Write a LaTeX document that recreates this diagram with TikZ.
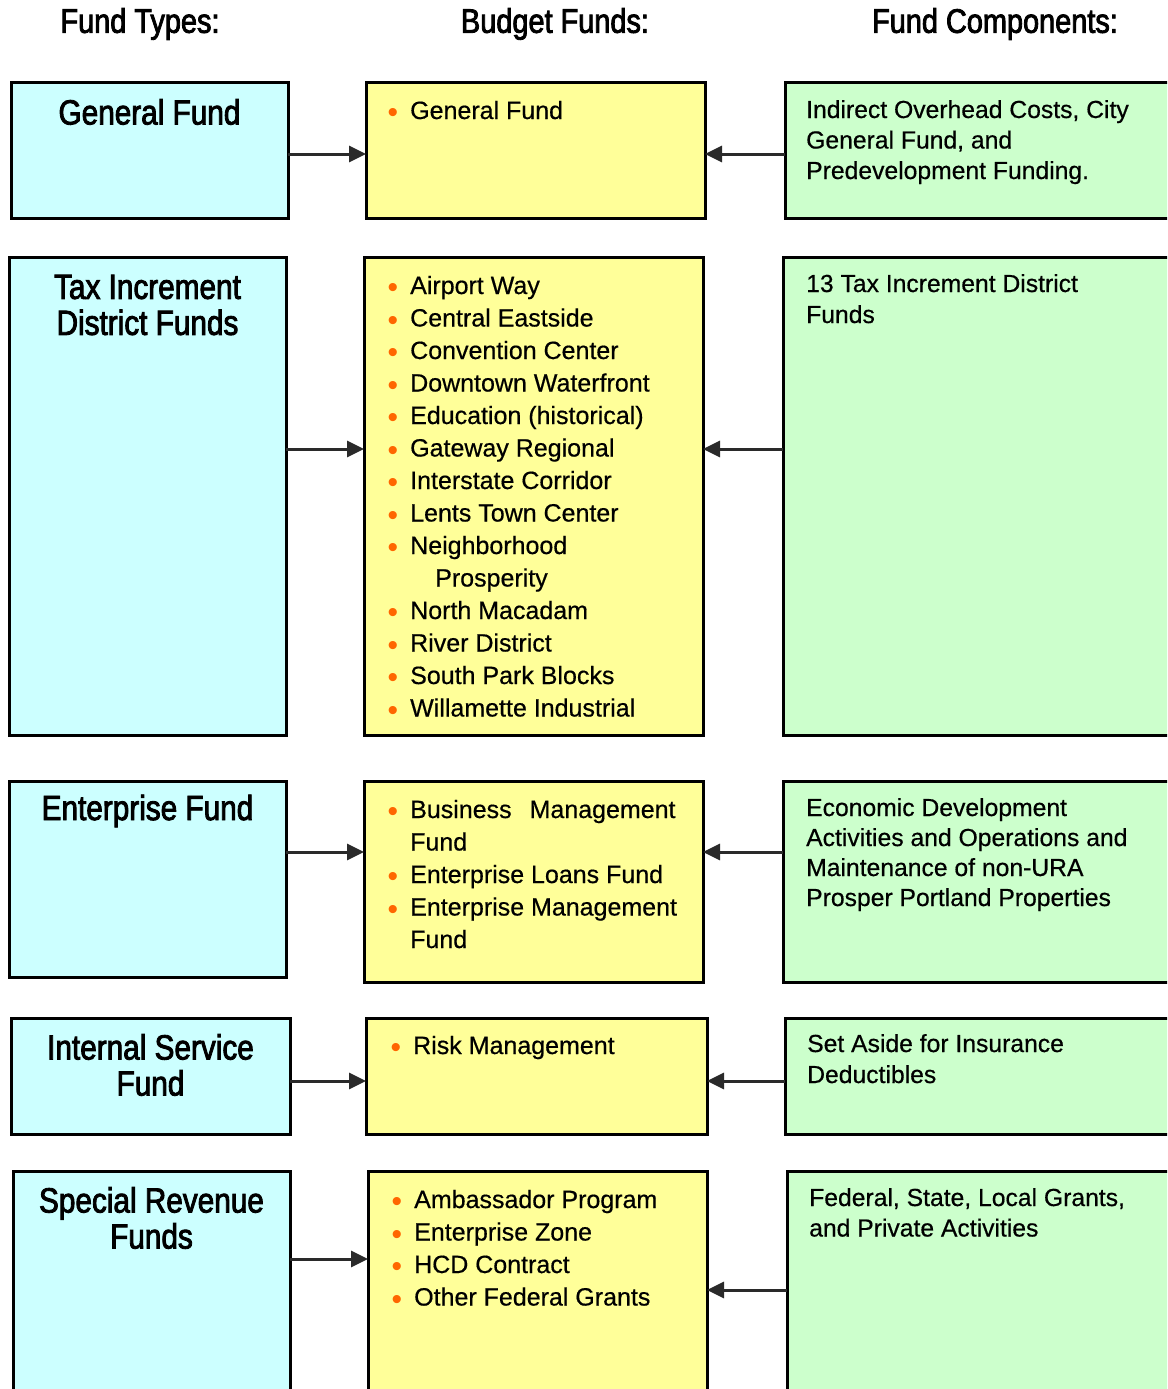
\documentclass[tikz,border=0pt]{standalone}
\usepackage{fontspec}
\setmainfont{Liberation Sans}[FakeBold=0.5]
\newfontfamily\ttlfont[FakeStretch=0.85,FakeBold=2.4]{Liberation Sans}
\newfontfamily\bulfont{Liberation Sans}
\usetikzlibrary{arrows.meta}
\definecolor{cyanbox}{HTML}{CCFFFF}
\definecolor{yelbox}{HTML}{FFFF99}
\definecolor{grnbox}{HTML}{CCFFCC}
\definecolor{bulc}{HTML}{FF6600}
\definecolor{arrc}{HTML}{2A2A2A}
\newcommand\bul{\makebox[0pt][r]{\raisebox{-3.8pt}{\textcolor{bulc}{\bulfont\fontsize{30}{30}\selectfont •}}\hspace{12pt}}}
\newcommand\mtext[1]{\parbox[t]{330pt}{\fontsize{25}{32.5}\selectfont #1}}
\newcommand\gtext[2]{\parbox[t]{380pt}{\fontsize{24.7}{#1}\selectfont #2}}
\begin{document}
\begin{tikzpicture}[x=1pt,y=-1pt,
  box/.style={draw=black,line width=3pt,inner sep=0pt,outer sep=0pt},
  ftype/.style={box,fill=cyanbox},
  bfund/.style={box,fill=yelbox},
  fcomp/.style={box,fill=grnbox},
  ttl/.style={font=\ttlfont\fontsize{35}{36}\selectfont,align=center,inner sep=0pt},
  hdr/.style={font=\ttlfont\fontsize{34}{36}\selectfont,inner sep=0pt},
  txt/.style={anchor=base west,inner sep=0pt},
  arr/.style={draw=arrc,line width=3pt,-{Triangle[length=17pt,width=16pt]}}]
\useasboundingbox (0,0) rectangle (1167,1389);
\clip (0,0) rectangle (1167,1389);
\fill[white] (0,0) rectangle (1167,1389);
% headers
\node[hdr] (h1) at (140,24) {Fund Types:};
\node[hdr] (h2) at (555,24) {Budget Funds:};
\node[hdr] (h3) at (995,24) {Fund Components:};
% row 1
\path (11,82) node[ftype,anchor=north west,minimum width=277pt,minimum height=136pt] (t1) {};
\path (366,82) node[bfund,anchor=north west,minimum width=339pt,minimum height=136pt] (m1) {};
\path (785,82) node[fcomp,anchor=north west,minimum width=400pt,minimum height=136pt] (c1) {};
% row 2
\path (9,257) node[ftype,anchor=north west,minimum width=277pt,minimum height=478pt] (t2) {};
\path (364,257) node[bfund,anchor=north west,minimum width=339pt,minimum height=478pt] (m2) {};
\path (783,257) node[fcomp,anchor=north west,minimum width=400pt,minimum height=478pt] (c2) {};
% row 3
\path (9,781) node[ftype,anchor=north west,minimum width=277pt,minimum height=196pt] (t3) {};
\path (364,781) node[bfund,anchor=north west,minimum width=339pt,minimum height=201pt] (m3) {};
\path (783,781) node[fcomp,anchor=north west,minimum width=400pt,minimum height=201pt] (c3) {};
% row 4
\path (11,1018) node[ftype,anchor=north west,minimum width=279pt,minimum height=116pt] (t4) {};
\path (366,1018) node[bfund,anchor=north west,minimum width=341pt,minimum height=116pt] (m4) {};
\path (785,1018) node[fcomp,anchor=north west,minimum width=400pt,minimum height=116pt] (c4) {};
% row 5
\path (13,1171) node[ftype,anchor=north west,minimum width=277pt,minimum height=260pt] (t5) {};
\path (368,1171) node[bfund,anchor=north west,minimum width=339pt,minimum height=260pt] (m5) {};
\path (787,1171) node[fcomp,anchor=north west,minimum width=400pt,minimum height=260pt] (c5) {};
% titles
\node[ttl] (tt1) at (t1.center |- 0,112) {General Fund};
\node[ttl] (tt2) at (t2.center |- 0,305) {Tax Increment\\District Funds};
\node[ttl] (tt3) at (t3.center |- 0,811) {Enterprise Fund};
\node[ttl] (tt4) at (t4.center |- 0,1065) {Internal Service\\Fund};
\node[ttl] (tt5) at (t5.center |- 0,1218) {Special Revenue\\Funds};
% budget funds
\node[txt] (mt1) at (410,119) {\mtext{\bul General Fund}};
\node[txt] (mt2) at (410,294) {\mtext{\bul Airport Way\\
\bul Central Eastside\\
\bul Convention Center\\
\bul Downtown Waterfront\\
\bul Education (historical)\\
\bul Gateway Regional\\
\bul Interstate Corridor\\
\bul Lents Town Center\\
\bul Neighborhood\\
\hspace*{25pt}Prosperity\\
\bul North Macadam\\
\bul River District\\
\bul South Park Blocks\\
\bul Willamette Industrial}};
\node[txt] (mt3) at (410,818) {\mtext{\bul Business\hspace{18pt}Management\\
Fund\\
\bul Enterprise Loans Fund\\
\bul Enterprise Management\\
Fund}};
\node[txt] (mt4) at (413,1054) {\mtext{\bul Risk Management}};
\node[txt] (mt5) at (414,1208) {\mtext{\bul Ambassador Program\\
\bul Enterprise Zone\\
\bul HCD Contract\\
\bul Other Federal Grants}};
% components
\node[txt] (ct1) at (806,118) {\gtext{30.5}{Indirect Overhead Costs, City\\General Fund, and\\Predevelopment Funding.}};
\node[txt] (ct2) at (806,292) {\gtext{31}{13 Tax Increment District\\Funds}};
\node[txt] (ct3) at (806,816) {\gtext{30}{Economic Development\\Activities and Operations and\\Maintenance of non-URA\\Prosper Portland Properties}};
\node[txt] (ct4) at (807,1052) {\gtext{31}{Set Aside for Insurance\\Deductibles}};
\node[txt] (ct5) at (809,1206) {\gtext{30.5}{Federal, State, Local Grants,\\and Private Activities}};
% arrow levels
\coordinate (y1) at (0,154);
\coordinate (y2) at (0,449);
\coordinate (y3) at (0,852);
\coordinate (y4) at (0,1081);
\coordinate (y5a) at (0,1259);
\coordinate (y5b) at (0,1290);
\draw[arr] (t1.east |- y1) -- (m1.west |- y1);
\draw[arr] (c1.west |- y1) -- (m1.east |- y1);
\draw[arr] (t2.east |- y2) -- (m2.west |- y2);
\draw[arr] (c2.west |- y2) -- (m2.east |- y2);
\draw[arr] (t3.east |- y3) -- (m3.west |- y3);
\draw[arr] (c3.west |- y3) -- (m3.east |- y3);
\draw[arr] (t4.east |- y4) -- (m4.west |- y4);
\draw[arr] (c4.west |- y4) -- (m4.east |- y4);
\draw[arr] (t5.east |- y5a) -- (m5.west |- y5a);
\draw[arr] (c5.west |- y5b) -- (m5.east |- y5b);
\end{tikzpicture}
\end{document}
